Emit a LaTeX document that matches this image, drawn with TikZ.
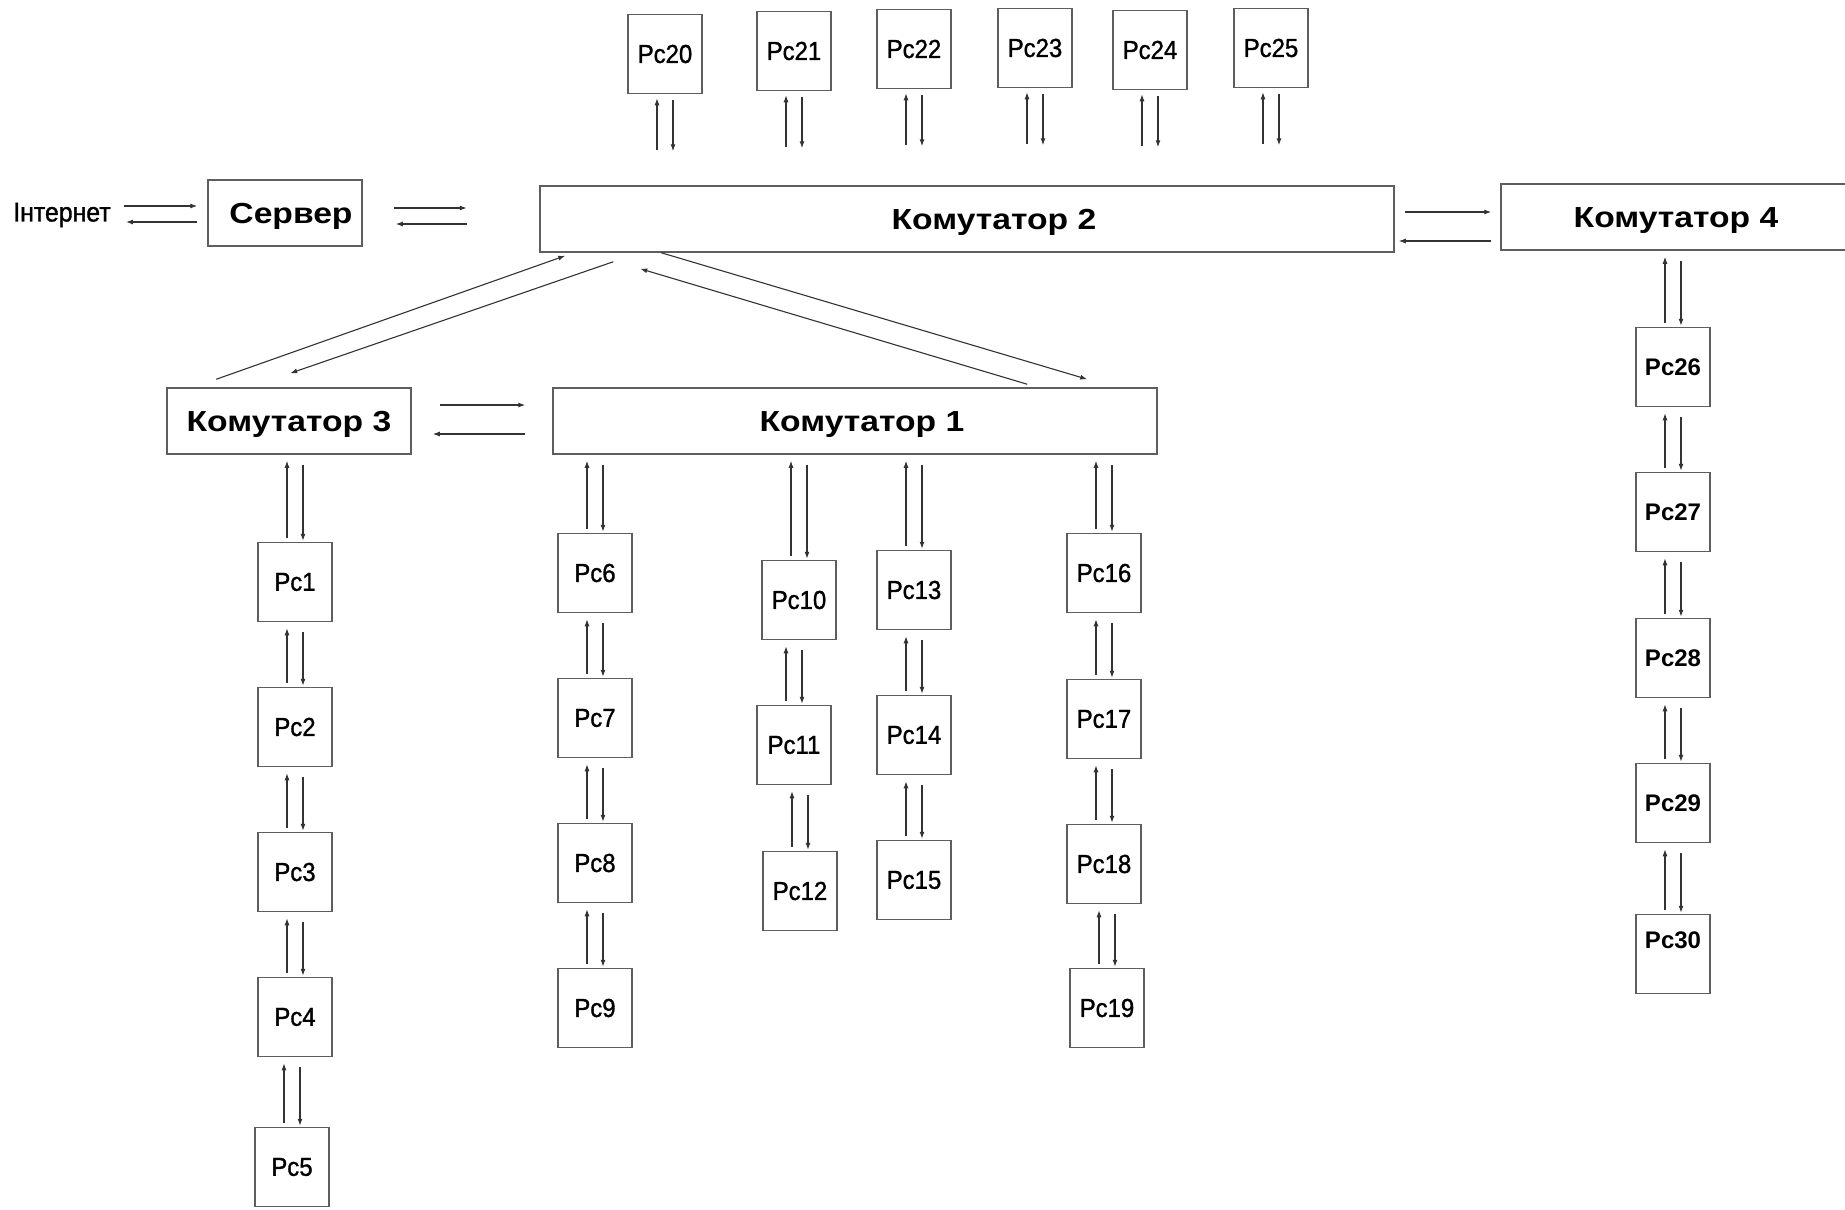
\documentclass[tikz,border=0pt]{standalone}
\usepackage{fontspec}
\setmainfont{Liberation Sans}
\newfontfamily\pcfont{Liberation Sans}[FakeStretch=0.92, FakeBold=1.2]
\newfontfamily\swfont{Liberation Sans Bold}[FakeStretch=1.16]
\newfontfamily\pcwide{Liberation Sans Bold}
\usetikzlibrary{arrows.meta,calc}

\definecolor{boxline}{HTML}{5E5E5E}
\definecolor{arrline}{HTML}{333333}

\tikzset{
  pcbox/.style={draw=boxline, line width=1.5pt, minimum width=74pt, minimum height=79pt,
    inner sep=0pt, font=\pcfont\fontsize{26}{30}\selectfont},
  pcboxw/.style={pcbox, font=\pcwide\fontsize{24}{28}\selectfont},
  swbox/.style={draw=boxline, line width=1.5pt, minimum height=66pt, inner sep=0pt,
    text height=21pt, text depth=0pt, font=\swfont\fontsize{29}{34}\selectfont},
  arr/.style={draw=arrline, line width=1.1pt, -{Latex[length=7pt,width=5pt]}},
}

% a pair of opposite arrows between an upper and a lower box
\newcommand\duplex[2]{%
  \draw[arr] ($(#2.north)+(-8,-4)$) -- ($(#2.north|-#1.south)+(-8,6)$);
  \draw[arr] ($(#2.north|-#1.south)+(8,10)$) -- ($(#2.north)+(8,-1)$);
}
% a pair of opposite arrows hanging below a workstation of the top row
\newcommand\hang[1]{%
  \draw[arr] ($(#1.south)+(-8,56)$) -- ($(#1.south)+(-8,4)$);
  \draw[arr] ($(#1.south)+(8,6)$) -- ($(#1.south)+(8,57)$);
}

\begin{document}
\begin{tikzpicture}[x=1pt, y=-1pt]
\clip (0,0) rectangle (1845,1210);
\fill[white] (0,0) rectangle (1845,1210);

% switches and server
\node[swbox, minimum width=154pt] (srv) at (285,213) {\hspace*{12pt}Сервер};
\node[swbox, minimum width=854pt] (k2) at (967,219) {\hspace*{54pt}Комутатор 2};
\node[swbox, minimum width=350pt] (k4) at (1676,217) {Комутатор 4};
\node[swbox, minimum width=244pt] (k3) at (289,421) {Комутатор 3};
\node[swbox, minimum width=604pt] (k1) at (855,421) {\hspace*{14pt}Комутатор 1};
\node[font=\pcfont\fontsize{27}{30}\selectfont, inner sep=0pt] (inet) at (62,215) {Інтернет};

% workstations on top
\node[pcbox] (pc20) at (665,54) {Pc20};
\node[pcbox] (pc21) at (794,51) {Pc21};
\node[pcbox] (pc22) at (914,49) {Pc22};
\node[pcbox] (pc23) at (1035,48) {Pc23};
\node[pcbox] (pc24) at (1150,50) {Pc24};
\node[pcbox] (pc25) at (1271,48) {Pc25};

% chain under switch 3
\node[pcbox] (pc1) at (295,582) {Pc1};
\node[pcbox] (pc2) at (295,727) {Pc2};
\node[pcbox] (pc3) at (295,872) {Pc3};
\node[pcbox] (pc4) at (295,1017) {Pc4};
\node[pcbox] (pc5) at (292,1167) {Pc5};

% chains under switch 1
\node[pcbox] (pc6) at (595,573) {Pc6};
\node[pcbox] (pc7) at (595,718) {Pc7};
\node[pcbox] (pc8) at (595,863) {Pc8};
\node[pcbox] (pc9) at (595,1008) {Pc9};

\node[pcbox] (pc10) at (799,600) {Pc10};
\node[pcbox] (pc11) at (794,745) {Pc11};
\node[pcbox] (pc12) at (800,891) {Pc12};

\node[pcbox] (pc13) at (914,590) {Pc13};
\node[pcbox] (pc14) at (914,735) {Pc14};
\node[pcbox] (pc15) at (914,880) {Pc15};

\node[pcbox] (pc16) at (1104,573) {Pc16};
\node[pcbox] (pc17) at (1104,719) {Pc17};
\node[pcbox] (pc18) at (1104,864) {Pc18};
\node[pcbox] (pc19) at (1107,1008) {Pc19};

% chain under switch 4
\node[pcboxw] (pc26) at (1673,367) {Pc26};
\node[pcboxw] (pc27) at (1673,512) {Pc27};
\node[pcboxw] (pc28) at (1673,658) {Pc28};
\node[pcboxw] (pc29) at (1673,803) {Pc29};
\node[pcboxw, text depth=28pt] (pc30) at (1673,954) {Pc30};

% Internet <-> server
\draw[arr] ($(inet.east|-srv.west)+(13,-7)$) -- ($(srv.west)+(-10,-7)$);
\draw[arr] ($(srv.west)+(-10,9)$) -- ($(inet.east|-srv.west)+(15,9)$);

% server <-> switch 2
\draw[arr] ($(srv.east)+(31,-5)$) -- ($(srv.east)+(104,-5)$);
\draw[arr] ($(srv.east)+(104,11)$) -- ($(srv.east)+(33,11)$);

% switch 2 <-> switch 4
\draw[arr] ($(k2.east)+(10,-7)$) -- ($(k4.west|-k2.east)+(-9,-7)$);
\draw[arr] ($(k4.west|-k2.east)+(-9,22)$) -- ($(k2.east)+(4,22)$);

% switch 3 <-> switch 1
\draw[arr] ($(k3.east)+(28,-16)$) -- ($(k1.west)+(-27,-16)$);
\draw[arr] ($(k1.west)+(-27,13)$) -- ($(k3.east)+(21,13)$);

% switch 2 <-> switches 3 and 1
\draw[arr] ($(k3.north west)+(50,-8)$) -- ($(k2.south west)+(26,3)$);
\draw[arr] ($(k2.south west)+(74,9)$) -- ($(k3.north west)+(124,-14)$);
\draw[arr] ($(k1.north west)+(475,-3)$) -- ($(k2.south west)+(101,16)$);
\draw[arr] ($(k2.south west)+(122,0)$) -- ($(k1.north west)+(535,-8)$);

% top row links
\hang{pc20} \hang{pc21} \hang{pc22} \hang{pc23} \hang{pc24} \hang{pc25}

% vertical chains
\duplex{k3}{pc1} \duplex{pc1}{pc2} \duplex{pc2}{pc3} \duplex{pc3}{pc4} \duplex{pc4}{pc5}
\duplex{k1}{pc6} \duplex{pc6}{pc7} \duplex{pc7}{pc8} \duplex{pc8}{pc9}
\duplex{k1}{pc10} \duplex{pc10}{pc11} \duplex{pc11}{pc12}
\duplex{k1}{pc13} \duplex{pc13}{pc14} \duplex{pc14}{pc15}
\duplex{k1}{pc16} \duplex{pc16}{pc17} \duplex{pc17}{pc18} \duplex{pc18}{pc19}
\duplex{k4}{pc26} \duplex{pc26}{pc27} \duplex{pc27}{pc28} \duplex{pc28}{pc29} \duplex{pc29}{pc30}
\end{tikzpicture}
\end{document}
